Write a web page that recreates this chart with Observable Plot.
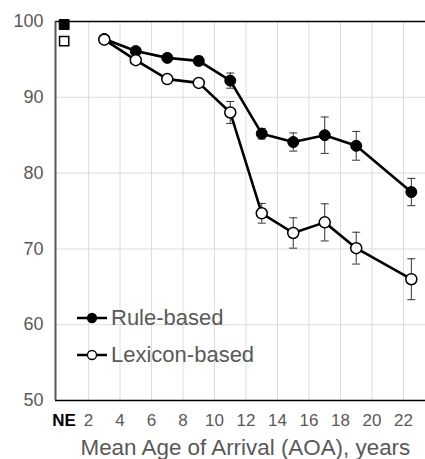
<!DOCTYPE html>
<html>
<head>
<meta charset="utf-8">
<script src="https://cdn.jsdelivr.net/npm/d3@7"></script>
<script src="https://cdn.jsdelivr.net/npm/@observablehq/plot@0.6"></script>
<style>
  html, body { margin: 0; padding: 0; background: #fff; overflow: hidden; }
  #wrap { position: relative; width: 425px; height: 459px; font-family: "Liberation Sans", Arial, sans-serif; }
  #legend { position: absolute; left: 0; top: 0; pointer-events: none; }
  .lg-row { position: absolute; display: flex; align-items: center; height: 30px; color: #595959; font-size: 22px; white-space: nowrap; }
  .lg-row svg { display: block; margin-right: 3px; }
</style>
</head>
<body>
<div id="wrap"><div id="chart"></div><div id="legend"></div></div>
<script>
// ---- data ----
const ages = [3, 5, 7, 9, 11, 13, 15, 17, 19, 22.5];
const ruleMean = [97.7, 96.1, 95.2, 94.8, 92.2, 85.2, 84.1, 85.0, 83.6, 77.5];
const ruleErr  = [0.3, 0.4, 0.5, 0.6, 1.0, 0.7, 1.2, 2.4, 1.9, 1.8];
const lexMean  = [97.6, 94.9, 92.4, 91.9, 88.0, 74.7, 72.1, 73.5, 70.1, 66.0];
const lexErr   = [0.3, 0.3, 0.3, 0.5, 1.45, 1.3, 2.0, 2.45, 2.1, 2.7];
const neX = 0.45;
const neRule = 99.6;
const neLex = 97.4;
const xTicks = [2, 4, 6, 8, 10, 12, 14, 16, 18, 20, 22];
const yTicks = [50, 60, 70, 80, 90, 100];
const yGrid = [60, 70, 80, 90];
const seriesNames = ["Rule-based", "Lexicon-based"];
const xTitle = "Mean Age of Arrival (AOA), years";

const rule = ages.map((a, i) => ({x: a, y: ruleMean[i], e: ruleErr[i]}));
const lex = ages.map((a, i) => ({x: a, y: lexMean[i], e: lexErr[i]}));
const both = rule.concat(lex);

const capSymbol = {
  draw(ctx, size) {
    const r = Math.sqrt(size / Math.PI);
    ctx.moveTo(-r, 0);
    ctx.lineTo(r, 0);
  }
};

const plot = Plot.plot({
  width: 425,
  height: 459,
  marginLeft: 55,
  marginRight: 0,
  marginTop: 21,
  marginBottom: 59,
  style: {fontFamily: '"Liberation Sans", Arial, sans-serif', background: "#fff"},
  x: {domain: [-0.1, 23.4]},
  y: {domain: [50, 100]},
  marks: [
    Plot.ruleX(xTicks, {stroke: "#dcdcdc", strokeWidth: 1}),
    Plot.ruleY(yGrid, {stroke: "#dcdcdc", strokeWidth: 1}),
    Plot.ruleY([100], {stroke: "#000", strokeWidth: 1.5}),
    Plot.ruleY([50], {stroke: "#000", strokeWidth: 1.5}),
    Plot.ruleX([-0.1], {stroke: "#555", strokeWidth: 2}),
    Plot.axisX({ticks: xTicks, tickSize: 0, tickPadding: 13, fontSize: 17, color: "#595959", label: null}),
    Plot.axisX({ticks: [neX], tickFormat: () => "NE", tickSize: 0, tickPadding: 13, fontSize: 17, color: "#000", fontWeight: "bold", label: null}),
    Plot.axisY({ticks: yTicks, tickSize: 0, tickPadding: 12, fontSize: 18, color: "#595959", label: null}),
    Plot.text([xTitle], {frameAnchor: "bottom-left", textAnchor: "start", lineAnchor: "middle", dx: 25, dy: 47, fontSize: 22.4, fill: "#595959"}),
    // error bars
    Plot.ruleX(both, {x: "x", y1: d => d.y - d.e, y2: d => d.y + d.e, stroke: "#333", strokeWidth: 1}),
    Plot.dot(both, {x: "x", y: d => d.y + d.e, symbol: capSymbol, r: 4, stroke: "#333", strokeWidth: 1, fill: "none"}),
    Plot.dot(both, {x: "x", y: d => d.y - d.e, symbol: capSymbol, r: 4, stroke: "#333", strokeWidth: 1, fill: "none"}),
    // lines
    Plot.line(rule, {x: "x", y: "y", stroke: "#000", strokeWidth: 2.6}),
    Plot.line(lex, {x: "x", y: "y", stroke: "#000", strokeWidth: 2.6}),
    Plot.dot(rule, {x: "x", y: "y", r: 5.5, fill: "#000", stroke: "#000", strokeWidth: 1}),
    Plot.dot(lex, {x: "x", y: "y", r: 5.5, fill: "#fff", stroke: "#000", strokeWidth: 1.5}),
    // NE markers
    Plot.dot([{x: neX, y: neRule}], {x: "x", y: "y", symbol: "square", r: 5.6, fill: "#000", stroke: "#000", strokeWidth: 1}),
    Plot.dot([{x: neX, y: neLex}], {x: "x", y: "y", symbol: "square", r: 5.2, fill: "#fff", stroke: "#000", strokeWidth: 1.5})
  ]
});
document.getElementById("chart").appendChild(plot);

// legend (inside the plot area, lower-left)
const legend = document.getElementById("legend");
const rows = [
  {name: seriesNames[0], fill: "#000", top: 303},
  {name: seriesNames[1], fill: "#fff", top: 340}
];
rows.forEach(r => {
  const div = document.createElement("div");
  div.className = "lg-row";
  div.style.left = "76px";
  div.style.top = r.top + "px";
  div.innerHTML = `<svg width="32" height="30"><line x1="1" y1="15" x2="31" y2="15" stroke="#000" stroke-width="2.5"/><circle cx="16" cy="15" r="4.5" fill="${r.fill}" stroke="#000" stroke-width="1.3"/></svg><span>${r.name}</span>`;
  legend.appendChild(div);
});
</script>
</body>
</html>
